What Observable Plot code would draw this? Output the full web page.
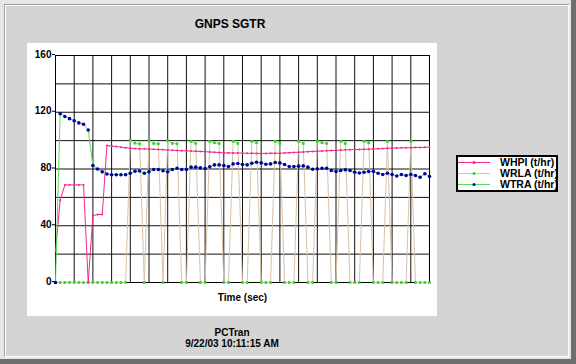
<!DOCTYPE html>
<html><head><meta charset="utf-8">
<script src="https://cdn.jsdelivr.net/npm/d3@7"></script>
<script src="https://cdn.jsdelivr.net/npm/@observablehq/plot@0.6"></script>
<style>
body{margin:0;}
#win{position:absolute;left:0;top:0;width:576px;height:364px;background:#6e6e6e;overflow:hidden;font-family:"Liberation Sans",Arial,sans-serif;color:#000;}
.f{position:absolute;}
#title{position:absolute;left:130px;top:17px;width:200px;text-align:center;font-size:12px;font-weight:bold;line-height:14px;}
#panel{position:absolute;left:27px;top:43px;width:410px;height:273px;background:#fff;}
#foot{position:absolute;left:132px;top:327px;width:200px;text-align:center;font-size:10px;font-weight:bold;line-height:11px;}
#legend{position:absolute;left:456px;top:155px;width:102px;height:37px;box-sizing:border-box;border:2px solid #000;background:#fff;font-size:10.5px;font-weight:bold;}
.row{display:flex;align-items:center;height:11px;line-height:11px;white-space:nowrap;}
.row svg{flex:none;}
</style></head><body>
<div id="win">
  <div class="f" style="left:0;top:0;width:571px;height:359px;background:#e6e6e6"></div>
  <div class="f" style="left:4px;top:4px;width:565px;height:353px;background:#a0a0a0"></div>
  <div class="f" style="left:5px;top:5px;width:564px;height:352px;background:#ffffff"></div>
  <div class="f" style="left:6px;top:6px;width:562px;height:350px;background:#d4d4d4"></div>
  <div id="title">GNPS SGTR</div>
  <div id="panel"></div>
  <div id="foot">PCTran<br>9/22/03 10:11:15 AM</div>
  <div id="legend"></div>
</div>
<script>
// Time axis (sec) — sample times
const time = [0,5,10,15,20,25,30,35,40,45,50,55,60,65,70,75,80,85,90,95,
  100,105,110,115,120,125,130,135,140,145,150,155,160,165,170,175,180,185,190,195,
  200,205,210,215,220,225,230,235,240,245,250,255,260,265,270,275,280,285,290,295,
  300,305,310,315,320,325,330,335,340,345,350,355,360,365,370,375,380,385,390,395,400];

const WHPI = [22,58,68.8,68.8,68.8,68.8,68.8,0,47.2,47.9,47.9,96.5,96.2,95.8,95.4,95.0,94.6,94.4,94.2,94.2,
  94.0,93.9,93.8,93.6,93.4,93.2,93.0,92.9,92.8,92.7,92.5,92.4,92.2,92.0,91.8,91.6,91.4,91.3,91.3,91.2,
  91.2,91.1,91.1,91.0,91.0,91.0,91.1,91.1,91.1,91.3,91.5,91.7,91.8,92.0,92.2,92.4,92.5,92.7,92.9,93.0,
  93.1,93.3,93.5,93.6,93.7,93.8,93.9,94.0,94.1,94.3,94.4,94.6,94.7,94.8,94.9,95.0,95.0,95.2,95.2,95.3,95.4];

const WRLA = [0,0,0,0,0,0,0,0,0,0,0,0,0,0,0,0,
  100.5,98.2,97.8,0,100,98,97.8,0,100,98,97.8,0,0,99.5,
  98,0,0,99.5,98.5,98,0,0,99.5,98,0,0,99.5,98.5,0,0,0,99.5,98,0,
  0,0,99.5,98,0,0,99.5,98.5,98,0,0,99.5,98,0,0,0,99.5,98.5,0,0,
  0,99.5,0,0,0,0,99.5,0,0,0,0];

const WTRA = [0,119,117,115.5,114,112.5,111.5,107.5,82.5,80,78,76.5,76,76,76,76,77,78.4,78.6,77,
  78,79.6,79.6,78.8,78,79.6,80.5,79.6,79.6,81.3,81.3,80.8,80.3,81.5,82.9,82.9,82.4,81.7,83.6,83.9,
  83.2,82.9,84.1,84.8,84.3,83.4,83.6,84.6,84.3,83.2,81.7,81.7,82.0,82.2,81.3,79.8,80.1,80.5,80.5,78.9,
  78.2,78.9,79.4,78.9,77.7,77.2,77.7,78.2,78.2,77.0,76.1,77.0,76.1,75.1,76.1,75.4,76.1,75.4,74.2,76.6,74.7];

const xGrid = [0,20,40,60,80,100,120,140,160,180,200,220,240,260,280,300,320,340,360,380,400];
const yGrid = [0,20,40,60,80,100,120,140,160];
const yTicks = [0,40,80,120,160];

const seriesNames = ["WHPI (t/hr)", "WRLA (t/hr)", "WTRA (t/hr)"];
const lineColors = ["#f0288c", "#d8c2a6", "#55dd55"];
const dotColors = ["#f0288c", "#22dd22", "#0000a8"];

const rows = time.map((t, i) => ({t, whpi: WHPI[i], wrla: WRLA[i], wtra: WTRA[i]}));

const font = "Liberation Sans, Arial, sans-serif";
const chart = Plot.plot({
  width: 410, height: 273,
  marginLeft: 28, marginRight: 8, marginTop: 12, marginBottom: 34,
  style: {background: "white", fontFamily: font, fontSize: "10px", fontWeight: "bold", color: "black", overflow: "visible"},
  x: {domain: [0, 400], axis: null},
  y: {domain: [0, 160], axis: null},
  marks: [
    Plot.gridX(xGrid, {stroke: "#111", strokeOpacity: 1}),
    Plot.gridY(yGrid, {stroke: "#111", strokeOpacity: 1}),
    Plot.frame({stroke: "black"}),
    Plot.axisY(yTicks, {anchor: "left", tickSize: 3, tickPadding: 1, label: null, stroke: "black", fill: "black", fontWeight: "bold", fontSize: 10, dy: -1}),
    Plot.text(["Time (sec)"], {frameAnchor: "bottom", lineAnchor: "middle", dy: 15, fontWeight: "bold", fontSize: 10, fill: "black"}),
    Plot.line(rows, {x: "t", y: "wrla", stroke: lineColors[1], strokeWidth: 1}),
    Plot.dot(rows, {x: "t", y: "wrla", symbol: "square", r: 1.5, fill: dotColors[1], stroke: "none"}),
    Plot.line(rows, {x: "t", y: "whpi", stroke: lineColors[0], strokeWidth: 1}),
    Plot.dot(rows, {x: "t", y: "whpi", r: 1, fill: dotColors[0], stroke: "none"}),
    Plot.line(rows, {x: "t", y: "wtra", stroke: lineColors[2], strokeWidth: 1}),
    Plot.dot(rows, {x: "t", y: "wtra", r: 1.8, fill: dotColors[2], stroke: "none"})
  ]
});
document.getElementById("panel").appendChild(chart);

// Legend
const legend = document.getElementById("legend");
seriesNames.forEach((name, i) => {
  const row = document.createElement("div");
  row.className = "row";
  row.innerHTML = `<svg width="42" height="11"><line x1="0" x2="32" y1="5.5" y2="5.5" stroke="${lineColors[i]}" stroke-width="1"/><circle cx="16" cy="5.5" r="1.5" fill="${dotColors[i]}"/></svg><span>${name}</span>`;
  legend.appendChild(row);
});
</script>
</body></html>
